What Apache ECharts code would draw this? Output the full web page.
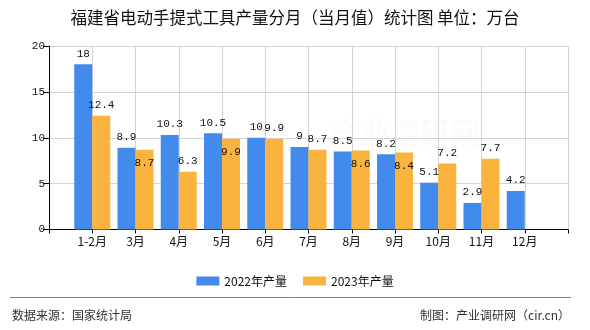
<!DOCTYPE html>
<html>
<head>
<meta charset="utf-8">
<script src="https://cdn.jsdelivr.net/npm/echarts@6/dist/echarts.min.js"></script>
<style>
html,body{margin:0;padding:0;background:#fff;}
#c{width:590px;height:330px;}
</style>
</head>
<body>
<div id="c"></div>
<script>
var categories = ['1-2月','3月','4月','5月','6月','7月','8月','9月','10月','11月','12月'];
var seriesNames = ['2022年产量','2023年产量'];
var values2022 = [18, 8.9, 10.3, 10.5, 10, 9, 8.5, 8.2, 5.1, 2.9, 4.2];
var values2023 = [12.4, 8.7, 6.3, 9.9, 9.9, 8.7, 8.6, 8.4, 7.2, 7.7, null];
var yTicks = [0, 5, 10, 15, 20];
var titleText = '福建省电动手提式工具产量分月（当月值）统计图 单位：万台';
var sourceText = '数据来源：国家统计局';
var makerText = '制图：产业调研网（cir.cn）';

var BLUE = '#428BEC';
var ORANGE = '#FBB340';
var CJK = '"Noto Sans CJK SC", sans-serif';
var NUM = '"Liberation Mono", monospace';

// axis padded with one empty slot at each end
var axisData = [''].concat(categories).concat(['']);
function pad(arr){ return [null].concat(arr).concat([null]); }

// decide orange label position: move inside when it would collide with the blue label
function labelLen(v){ return String(v).length * 6; }
var orangeData = pad(values2023).map(function(v, i){
  if (v === null) return null;
  var b = values2022[i - 1];
  var pos = 'top', dist = 5;
  if (b !== null && b !== undefined) {
    var hOverlap = (labelLen(b) + labelLen(v)) / 2 >= 18;
    var vOverlap = Math.abs(b - v) < 1.3;
    if (hOverlap && vOverlap) { pos = 'insideTop'; dist = 8; }
  }
  return { value: v, label: { position: pos, distance: dist } };
});

var chart = echarts.init(document.getElementById('c'), null, {renderer:'canvas'});
chart.setOption({
  animation: false,
  backgroundColor: '#fff',
  title: {
    text: titleText,
    left: 'center',
    top: 9,
    padding: 0,
    textStyle: { fontFamily: CJK, fontSize: 16.5, fontWeight: 'normal', color: '#111' }
  },
  legend: {
    data: seriesNames,
    left: 'center',
    top: 270,
    itemWidth: 23,
    itemHeight: 9,
    itemGap: 16,
    icon: 'rect',
    textStyle: { fontFamily: CJK, fontSize: 12, color: '#111' }
  },
  grid: { left: 49, right: 22, top: 46, bottom: 100.5, containLabel: false },
  xAxis: {
    type: 'category',
    data: axisData,
    boundaryGap: false,
    axisLine: { show: true, lineStyle: { color: '#000', width: 1 } },
    axisTick: { show: true, interval: 0, length: 4, lineStyle: { color: '#000' } },
    axisLabel: { interval: 0, margin: 6, fontFamily: CJK, fontSize: 12, color: '#111' },
    splitLine: { show: true, interval: 0, lineStyle: { color: '#d4d4d4', width: 1 } }
  },
  yAxis: {
    type: 'value',
    min: yTicks[0],
    max: yTicks[yTicks.length - 1],
    interval: yTicks[1] - yTicks[0],
    axisLine: { show: true, lineStyle: { color: '#000', width: 1 } },
    axisTick: { show: true, length: 6, lineStyle: { color: '#000' } },
    axisLabel: { margin: 4, fontFamily: NUM, fontSize: 11, color: '#111' },
    splitLine: { show: true, lineStyle: { color: '#d4d4d4', width: 1 } }
  },
  series: [
    {
      name: seriesNames[0],
      type: 'bar',
      data: pad(values2022),
      barWidth: 18,
      barGap: '0%',
      itemStyle: { color: BLUE },
      label: { show: true, position: 'top', distance: 5, fontFamily: NUM, fontSize: 11, color: '#111' }
    },
    {
      name: seriesNames[1],
      type: 'bar',
      data: orangeData,
      barWidth: 18,
      barGap: '0%',
      itemStyle: { color: ORANGE },
      label: { show: true, position: 'top', distance: 5, fontFamily: NUM, fontSize: 11, color: '#111' }
    }
  ],
  graphic: [
    {
      type: 'text', left: 330, top: 118, silent: true, z: -1,
      style: { text: '产业调研网', font: 'bold 30px ' + CJK, fill: 'rgba(240,200,200,0.09)' }
    },
    {
      type: 'line', silent: true,
      shape: { x1: 10, y1: 297.5, x2: 571, y2: 297.5 },
      style: { stroke: '#808080', lineWidth: 1 }
    },
    {
      type: 'text', left: 12, top: 309, silent: true,
      style: { text: sourceText, font: '12px ' + CJK, fill: '#333' }
    },
    {
      type: 'text', right: 20, top: 309, silent: true,
      style: { text: makerText, font: '12px ' + CJK, fill: '#333' }
    }
  ]
});
</script>
</body>
</html>
